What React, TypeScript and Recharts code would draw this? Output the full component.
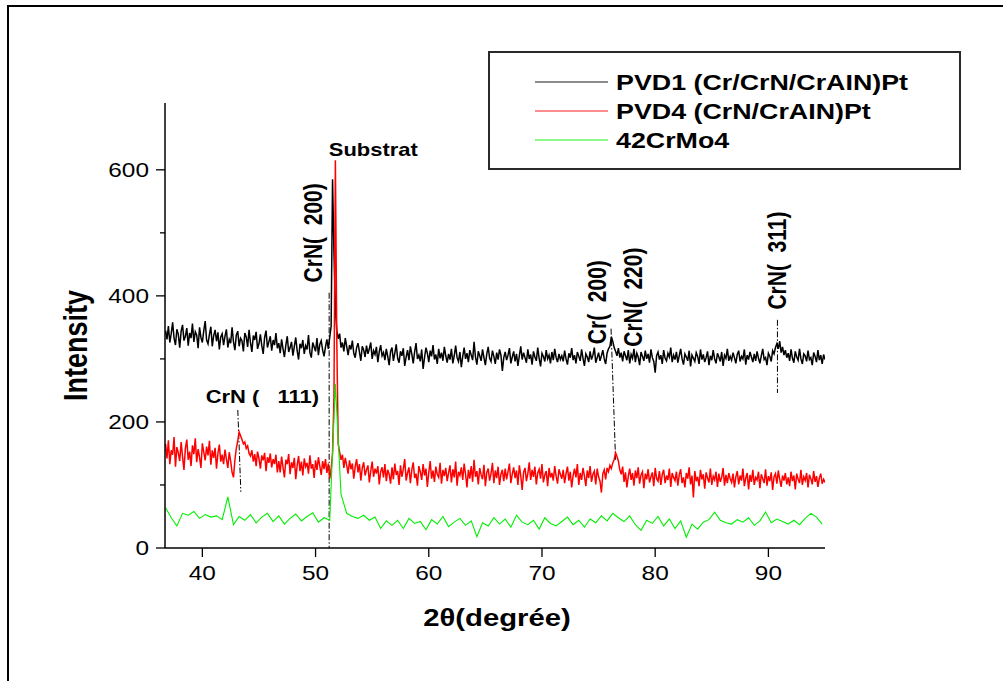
import { LineChart, Line, XAxis, YAxis, Legend, ReferenceLine, ReferenceDot } from "recharts";

const FONT = "'Liberation Sans', Arial, Helvetica, sans-serif";
// the scanned figure is stretched sideways, so text gets a horizontal scale
const SX = 1.22;
const NB = "\u00a0";

// 2θ sampling grids
const PVD_START = 36.75;
const PVD_STEP = 0.125;
const SUB_START = 36.75;
const SUB_STEP = 0.5;

// PVD1 (Cr/CrN/CrAlN)Pt, 36.75° .. 95°, 40 points per 5°
const PVD1 = [
  345, 331, 352, 326, 340, 358, 333, 322, 347, 339, 318, 344, 354, 329, 336, 349, 321, 341, 333, 356,
  327, 343, 338, 317, 350, 334, 326, 345, 360, 330, 324, 339, 351, 320, 337, 346, 328, 342, 315, 335,
  340, 322, 336, 347, 318, 331, 325, 350, 327, 314, 338, 344, 320, 333, 329, 312, 341, 335, 319, 346,
  326, 311, 337, 330, 343, 316, 324, 339, 321, 308, 334, 345, 318, 327, 336, 313, 330, 322, 341, 317,
  325, 309, 331, 316, 303, 322, 336, 311, 318, 327, 305, 320, 334, 313, 299, 324, 317, 330, 308, 321,
  315, 338, 310, 302, 326, 319, 312, 333, 306, 323, 329, 314, 304, 319, 331, 316, 334, 352, 585, 470,
  380, 345, 332, 340, 318, 326, 312, 333, 320, 306, 322, 315, 329, 309, 302, 318, 325, 311, 297, 320,
  314, 303, 321, 308, 316, 326, 300, 313, 307, 319, 295, 311, 322, 305, 310, 298, 316, 304, 290, 312,
  318, 297, 309, 323, 301, 294, 312, 305, 317, 289, 303, 314, 298, 320, 308, 293, 311, 325, 300, 306,
  296, 315, 284, 302, 318, 309, 295, 313, 304, 322, 299, 307, 292, 316, 301, 310, 297, 319, 305, 294,
  308, 299, 316, 293, 305, 321, 302, 296, 311, 287, 304, 318, 300, 309, 295, 314, 306, 298, 327, 303,
  291, 312, 305, 297, 315, 302, 290, 308, 319, 301, 296, 313, 304, 292, 310, 299, 315, 306, 281, 302,
  311, 298, 306, 317, 293, 303, 312, 296, 308, 289, 305, 320, 299, 310, 302, 294, 315, 300, 307, 291,
  312, 303, 297, 318, 301, 288, 309, 304, 296, 314, 300, 306, 293, 311, 298, 316, 302, 295, 308, 299,
  305, 296, 313, 300, 291, 309, 302, 317, 298, 306, 293, 311, 304, 297, 315, 301, 289, 308, 303, 295,
  312, 299, 306, 318, 294, 302, 310, 297, 305, 314, 300, 292, 309, 316, 320, 335, 328, 318, 312, 305,
  317, 302, 310, 296, 312, 305, 298, 314, 293, 307, 301, 316, 295, 309, 303, 290, 311, 304, 297, 313,
  300, 308, 294, 315, 302, 296, 278, 305, 311, 299, 306, 292, 314, 301, 297, 309, 303, 318, 295, 306,
  299, 311, 294, 305, 316, 300, 291, 308, 303, 297, 313, 288, 306, 301, 296, 310, 304, 292, 315, 299,
  307, 295, 302, 312, 290, 305, 298, 314, 300, 293, 309, 303, 296, 311, 289, 306, 301, 316, 297, 304,
  298, 310, 302, 293, 307, 313, 296, 304, 300, 315, 291, 306, 299, 311, 303, 295, 308, 297, 312, 301,
  293, 305, 316, 299, 302, 290, 309, 304, 296, 313, 308, 318, 324, 316, 328, 310, 319, 306, 314, 302,
  309, 297, 315, 301, 294, 312, 303, 298, 316, 300, 292, 308, 305, 296, 313, 299, 302, 290, 310, 304,
  295, 314, 298, 306, 292, 307, 299,
];

// PVD4 (CrN/CrAlN)Pt, same grid
const PVD4 = [
  165, 142, 171, 133, 155, 148, 176, 129, 160, 151, 138, 168, 145, 124, 158, 172, 140, 153, 130, 163,
  149, 174, 136, 157, 144, 127, 166, 152, 139, 161, 147, 170, 132, 155, 143, 159, 126, 150, 164, 137,
  148, 133, 156, 141, 127, 152, 138, 120, 112, 140, 158, 170, 184, 178, 172, 165, 168, 158, 162, 150,
  146, 155, 137, 149, 130, 153, 142, 126, 147, 139, 151, 122, 144, 135, 150, 128, 141, 133, 148, 120,
  138, 120, 145, 128, 112, 140, 133, 149, 117, 136, 127, 143, 109, 131, 146, 122, 137, 115, 142, 129,
  135, 118, 147, 126, 133, 111, 139, 124, 144, 130, 116, 138, 125, 141, 119, 134, 110, 125, 150, 240,
  615, 330, 165, 152, 140, 148, 127, 143, 131, 118, 139, 125, 134, 110, 129, 141, 120, 133, 107, 127,
  136, 115, 124, 131, 104, 122, 137, 113, 126, 118, 130, 101, 121, 128, 112, 133, 106, 124, 117, 102,
  128, 109, 134, 116, 122, 100, 131, 113, 125, 141, 107, 119, 128, 103, 124, 136, 111, 118, 99, 130,
  121, 108, 133, 115, 126, 97, 120, 138, 110, 123, 105, 129, 117, 112, 135, 102, 124, 114, 127, 106,
  119, 131, 104, 125, 112, 137, 99, 121, 115, 128, 108, 134, 117, 96, 124, 110, 130, 105, 140, 113,
  122, 101, 127, 116, 109, 132, 98, 120, 126, 107, 118, 135, 103, 123, 111, 129, 100, 117, 124, 106,
  126, 109, 121, 134, 103, 117, 128, 111, 123, 100, 131, 115, 92, 120, 127, 106, 118, 136, 108, 124,
  113, 129, 101, 119, 125, 110, 133, 104, 116, 122, 98, 127, 112, 119, 107, 130, 114, 102, 125, 117,
  110, 124, 103, 118, 129, 107, 121, 96, 115, 126, 112, 133, 100, 119, 108, 127, 114, 98, 123, 111,
  130, 105, 117, 122, 101, 126, 113, 106, 88, 118, 124, 109, 127, 121, 131, 126, 135, 140, 151, 145,
  138, 124, 117, 129, 105, 120, 96, 114, 126, 108, 119, 99, 123, 111, 128, 102, 116, 121, 95, 118,
  109, 125, 104, 113, 120, 98, 127, 110, 106, 122, 100, 117, 124, 103, 115, 108, 126, 97, 119, 112,
  107, 121, 99, 116, 125, 103, 112, 96, 119, 110, 128, 101, 115, 80, 122, 106, 113, 98, 124, 109,
  117, 94, 120, 111, 104, 126, 100, 114, 108, 121, 97, 118, 105, 112, 127, 99, 116, 103, 119, 110,
  104, 118, 96, 113, 122, 101, 115, 107, 126, 98, 111, 119, 93, 116, 105, 124, 100, 112, 108, 121,
  95, 117, 110, 103, 125, 99, 114, 106, 120, 92, 113, 118, 102, 123, 109, 97, 115, 107, 119, 101,
  112, 98, 121, 106, 115, 93, 118, 109, 103, 124, 100, 113, 107, 119, 96, 116, 110, 101, 122, 105,
  114, 97, 111, 118, 102, 109, 104,
];

// 42CrMo4 substrate, 36.75° .. 94.75°
const CRMO = [
  64, 48, 35, 55, 52, 58, 47, 53, 49, 51, 45, 81, 37, 50, 44, 53, 40, 49, 55, 42,
  51, 38, 47, 54, 43, 50, 56, 41, 48, 44, 260, 85, 55, 50, 47, 52, 44, 49, 31, 43,
  36, 44, 31, 47, 39, 42, 29, 45, 38, 50, 34, 41, 47, 36, 43, 18, 40, 35, 48, 38,
  46, 33, 52, 41, 37, 44, 30, 48, 39, 35, 42, 49, 37, 44, 33, 46, 40, 51, 43, 55,
  48, 42, 51, 37, 28, 44, 39, 50, 35, 46, 31, 43, 17, 38, 30, 41, 45, 57, 44, 40,
  38, 45, 41, 48, 36, 43, 57, 40, 46, 42, 38, 44, 37, 47, 55, 49, 38,
];

const SERIES_NAMES = ["PVD1 (Cr/CrN/CrAIN)Pt", "PVD4 (CrN/CrAIN)Pt", "42CrMo4"];
const SERIES_COLORS = ["#000000", "#ff0000", "#00ee00"];

const X_TICKS = [40, 50, 60, 70, 80, 90];
const Y_TICKS = [0, 100, 200, 300, 400, 500, 600];

// dash-dot leaders from the peak names down to the peaks
const LEADERS = [
  { x1: 43.13, y1: 219, x2: 43.4, y2: 89 },
  { x1: 51.2, y1: 405, x2: 51.2, y2: 0 },
  { x1: 76.1, y1: 348, x2: 76.5, y2: 140 },
  { x1: 90.8, y1: 362, x2: 90.8, y2: 246 },
];

const PEAK_LABELS = [
  { x: 55.1, y: 632, text: "Substrat", vertical: false },
  { x: 45.3, y: 241, text: `CrN (${NB}${NB}${NB}111)`, vertical: false },
  { x: 49.74, y: 500, text: `CrN(${NB}${NB}200)`, vertical: true },
  { x: 74.8, y: 390, text: `Cr(${NB}${NB}200)`, vertical: true },
  { x: 77.98, y: 398, text: `CrN(${NB}${NB}220)`, vertical: true },
  { x: 90.7, y: 456, text: `CrN(${NB}${NB}311)`, vertical: true },
];

const pvdTable = PVD1.map((v, i) => ({ x: PVD_START + i * PVD_STEP, pvd1: v, pvd4: PVD4[i] }));
const subTable = CRMO.map((v, i) => ({ x: SUB_START + i * SUB_STEP, crmo: v }));

const XTick = (props: any) => {
  const { x, y, payload } = props;
  return (
    <text transform={`translate(${x},${y + 19}) scale(${SX},1)`} textAnchor="middle" fontFamily={FONT} fontSize={20} fill="#000">
      {payload.value}
    </text>
  );
};

const YTick = (props: any) => {
  const { x, y, payload } = props;
  const axisX = x + 16; // tickSize 9 + tickMargin 7
  const major = payload.value % 200 === 0;
  return (
    <g>
      <line x1={axisX - (major ? 9 : 5)} x2={axisX} y1={y} y2={y} stroke="#000" strokeWidth={1.3} />
      {major && (
        <text transform={`translate(${x},${y + 7}) scale(${SX},1)`} textAnchor="end" fontFamily={FONT} fontSize={20} fill="#000">
          {payload.value}
        </text>
      )}
    </g>
  );
};

const XTitle = (props: any) => {
  const vb = props.viewBox;
  return (
    <text transform={`translate(${vb.x + vb.width / 2 + 2},${vb.y + 78}) scale(${SX},1)`} textAnchor="middle" fontFamily={FONT} fontSize={24} fontWeight="bold" fill="#000">
      2θ(degrée)
    </text>
  );
};

const YTitle = (props: any) => {
  const vb = props.viewBox;
  return (
    <text transform={`translate(${vb.x - 18},${vb.y + vb.height / 2 + 20}) rotate(-90) scale(1,${SX})`} textAnchor="middle" fontFamily={FONT} fontSize={27} fontWeight="bold" fill="#000">
      Intensity
    </text>
  );
};

const peakLabel = (text: string, vertical: boolean) => (p: any) => (
  <text
    transform={vertical ? `translate(${p.cx},${p.cy}) rotate(-90) scale(1,${SX})` : `translate(${p.cx},${p.cy}) scale(${SX},1)`}
    dy="0.36em"
    textAnchor="middle"
    fontFamily={FONT}
    fontSize={vertical ? 21 : 18}
    fontWeight="bold"
    fill="#000"
  >
    {text}
  </text>
);

const LegendBox = ({ payload }: any) => {
  const items = [...(payload || [])].sort((a: any, b: any) => SERIES_NAMES.indexOf(a.value) - SERIES_NAMES.indexOf(b.value));
  return (
    <svg width={474} height={120} style={{ display: "block" }}>
      <rect x={1} y={1} width={471} height={117} fill="#fff" stroke="#2a2a2a" strokeWidth={2} />
      {items.map((p: any, i: number) => (
        <g key={p.value}>
          <line x1={47} x2={120} y1={31 + i * 29} y2={31 + i * 29} stroke={p.color} strokeOpacity={0.6} strokeWidth={1.5} />
          <text transform={`translate(128,${31 + i * 29}) scale(${SX},1)`} dy="0.36em" fontFamily={FONT} fontSize={22} fontWeight="bold" fill="#000">
            {p.value}
          </text>
        </g>
      ))}
    </svg>
  );
};

export default function App() {
  return (
    <div style={{ position: "absolute", left: 0, top: 0, width: 1003, height: 681, overflow: "hidden", background: "#fff" }}>
      {/* frame of the scanned figure, only left and top edges are visible */}
      <div style={{ position: "absolute", left: 7, top: 5, width: 1200, height: 900, borderLeft: "2px solid #000", borderTop: "2px solid #000" }} />
      <div style={{ position: "absolute", left: 0, top: 0 }}>
        <LineChart width={1003} height={681} margin={{ top: 103, right: 178, bottom: 103, left: 105 }}>
          <XAxis
            dataKey="x"
            type="number"
            domain={[36.7, 95]}
            allowDataOverflow
            ticks={X_TICKS}
            height={30}
            tickSize={9}
            tickMargin={4}
            tick={<XTick />}
            tickLine={{ stroke: "#000", strokeWidth: 1.3 }}
            axisLine={{ stroke: "#000", strokeWidth: 1.5 }}
            label={{ content: XTitle }}
          />
          <YAxis
            type="number"
            domain={[0, 706]}
            allowDataOverflow
            ticks={Y_TICKS}
            width={60}
            tickSize={9}
            tickMargin={7}
            tick={<YTick />}
            tickLine={{ stroke: "none" }}
            axisLine={{ stroke: "#000", strokeWidth: 1.5 }}
            label={{ content: YTitle }}
          />
          <Legend
            layout="vertical"
            align="center"
            verticalAlign="middle"
            wrapperStyle={{ left: 488, top: 51, width: 474, height: 120 }}
            content={(props: any) => <LegendBox payload={props.payload} />}
          />
          {LEADERS.map((l, i) => (
            <ReferenceLine
              key={`lead-${i}`}
              segment={[{ x: l.x1, y: l.y1 }, { x: l.x2, y: l.y2 }]}
              stroke="#000"
              strokeWidth={1}
              strokeDasharray="6 2 1.5 2"
              ifOverflow="visible"
            />
          ))}
          <Line data={pvdTable} dataKey="pvd1" name={SERIES_NAMES[0]} stroke={SERIES_COLORS[0]} strokeWidth={1.5} dot={false} isAnimationActive={false} />
          <Line data={pvdTable} dataKey="pvd4" name={SERIES_NAMES[1]} stroke={SERIES_COLORS[1]} strokeWidth={1.5} dot={false} isAnimationActive={false} />
          <Line data={subTable} dataKey="crmo" name={SERIES_NAMES[2]} stroke={SERIES_COLORS[2]} strokeWidth={1.1} dot={false} isAnimationActive={false} />
          {PEAK_LABELS.map((p) => (
            <ReferenceDot key={p.text} x={p.x} y={p.y} r={0} ifOverflow="visible" shape={peakLabel(p.text, p.vertical)} />
          ))}
        </LineChart>
      </div>
    </div>
  );
}
